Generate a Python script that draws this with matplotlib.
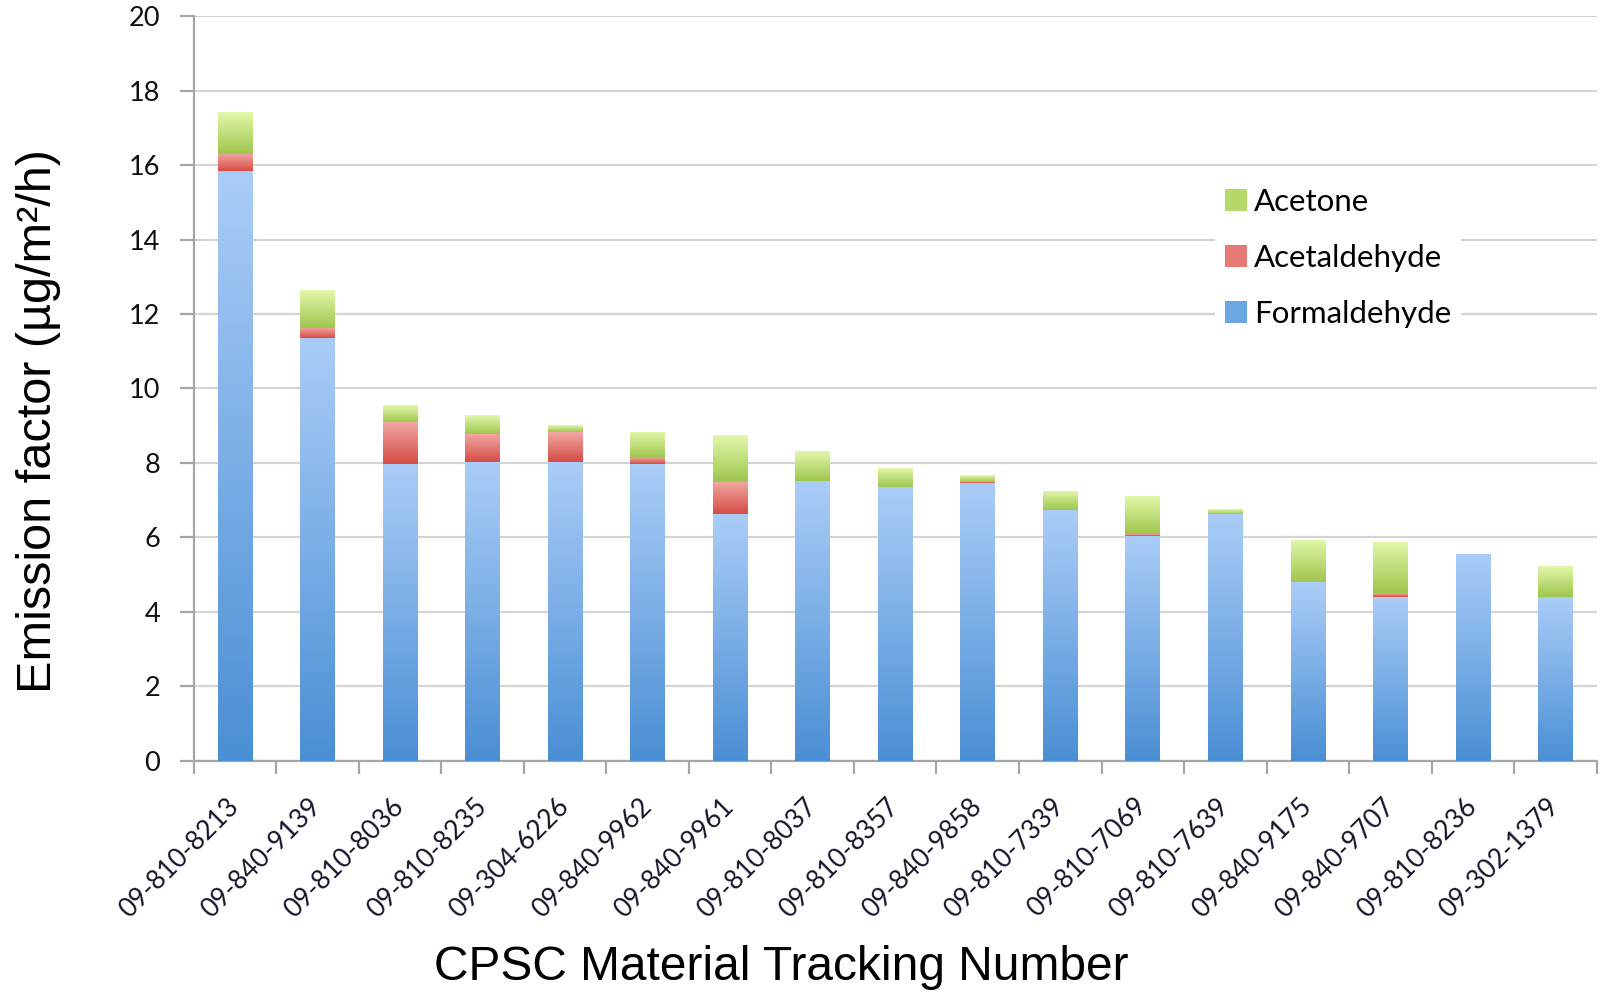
import numpy as np
import matplotlib
matplotlib.use("Agg")
import matplotlib.pyplot as plt
from matplotlib.colors import LinearSegmentedColormap
from matplotlib.patches import Patch

# Material tracking numbers and emission factors (ug/m2/h)
materials = [
    "09-810-8213", "09-840-9139", "09-810-8036", "09-810-8235", "09-304-6226",
    "09-840-9962", "09-840-9961", "09-810-8037", "09-810-8357", "09-840-9858",
    "09-810-7339", "09-810-7069", "09-810-7639", "09-840-9175", "09-840-9707",
    "09-810-8236", "09-302-1379",
]
formaldehyde = [15.85, 11.36, 7.98, 8.02, 8.03, 7.96, 6.62, 7.52, 7.34, 7.45,
                6.73, 6.04, 6.63, 4.79, 4.40, 5.56, 4.40]
acetaldehyde = [0.46, 0.27, 1.13, 0.77, 0.81, 0.18, 0.88, 0.0, 0.0, 0.05,
                0.0, 0.05, 0.0, 0.0, 0.10, 0.0, 0.0]
acetone = [1.12, 1.01, 0.45, 0.49, 0.18, 0.70, 1.24, 0.80, 0.51, 0.18,
           0.52, 1.02, 0.13, 1.14, 1.38, 0.0, 0.83]

# (bottom colour, top colour) of the vertical gradient per series
shades = {
    "Formaldehyde": ("#4a8fd4", "#aacdf7"),
    "Acetaldehyde": ("#d64c45", "#f1aaa6"),
    "Acetone": ("#9fc64d", "#e2f8ab"),
}
legend_colors = {"Acetone": "#b4d86a", "Acetaldehyde": "#e57a74", "Formaldehyde": "#6aa6e2"}

fig = plt.figure(figsize=(16, 9.92), dpi=100)
ax = fig.add_axes([0.121, 0.2332, 0.877, 0.7504])

x = np.arange(len(materials))
width = 0.42
grad = np.linspace(0, 1, 256).reshape(-1, 1)


def shade_bars(bars, c_bottom, c_top):
    cmap = LinearSegmentedColormap.from_list("shade", [c_bottom, c_top])
    for p in bars.patches:
        h = p.get_height()
        if h <= 0:
            p.set_visible(False)
            continue
        x0, y0, w = p.get_x(), p.get_y(), p.get_width()
        im = ax.imshow(grad, extent=[x0, x0 + w, y0, y0 + h], origin="lower",
                       aspect="auto", cmap=cmap, zorder=3, interpolation="bilinear")
        im.set_clip_path(p)
        p.set_facecolor("none")
        p.set_edgecolor("none")


bottom = np.zeros(len(materials))
for name, vals in [("Formaldehyde", formaldehyde), ("Acetaldehyde", acetaldehyde),
                   ("Acetone", acetone)]:
    vals = np.array(vals)
    bars = ax.bar(x, vals, width, bottom=bottom, zorder=3, label=name)
    shade_bars(bars, *shades[name])
    bottom = bottom + vals

ax.set_xlim(-0.5, len(materials) - 0.5)
ax.set_ylim(0, 20)

# gridlines and axes
ax.set_yticks(np.arange(0, 21, 2))
ax.yaxis.grid(True, color="#d4d4d4", linewidth=1.6, zorder=0)
ax.set_axisbelow(True)
for s in ["top", "right"]:
    ax.spines[s].set_visible(False)
for s in ["left", "bottom"]:
    ax.spines[s].set_color("#a6a6a6")
    ax.spines[s].set_linewidth(1.6)

tick_font = ["Lato", "DejaVu Sans"]
ax.tick_params(axis="y", length=10, width=1.6, color="#a6a6a6", pad=14,
               labelsize=19.5)
for t in ax.get_yticklabels():
    t.set_family(tick_font)
    t.set_color("#111111")

ax.set_xticks(x)
ax.set_xticklabels(materials, rotation=45, ha="right", rotation_mode="anchor",
                   va="center", fontsize=19, family=tick_font, color="#14142a")
ax.tick_params(axis="x", which="major", length=0, pad=30)
ax.set_xticks(np.arange(-0.5, len(materials), 1.0), minor=True)
ax.tick_params(axis="x", which="minor", length=9, width=1.6, color="#a6a6a6",
               direction="out")

# legend (top entry listed first)
handles = [Patch(facecolor=legend_colors[n], edgecolor="none")
           for n in ["Acetone", "Acetaldehyde", "Formaldehyde"]]
leg = ax.legend(handles, ["Acetone", "Acetaldehyde", "Formaldehyde"],
                loc="upper left", bbox_to_anchor=(0.717, 0.803),
                frameon=True, fancybox=False, edgecolor="none", facecolor="white",
                framealpha=1.0, prop={"family": tick_font, "size": 22.5},
                handlelength=0.7, handleheight=0.7, handletextpad=0.25,
                labelspacing=0.9, borderpad=0.3)
leg.set_zorder(5)

title_font = ["Liberation Sans Narrow", "Liberation Sans", "DejaVu Sans"]
fig.text(0.024, 0.5756, "Emission factor (\u00b5g/m\u00b2/h)", rotation=90,
         ha="center", va="center", fontsize=35, family=title_font)
fig.text(0.488, 0.025, "CPSC Material Tracking Number", ha="center",
         va="center", fontsize=34.5, family=title_font)

fig.savefig("out.png", dpi=100, facecolor="white")
